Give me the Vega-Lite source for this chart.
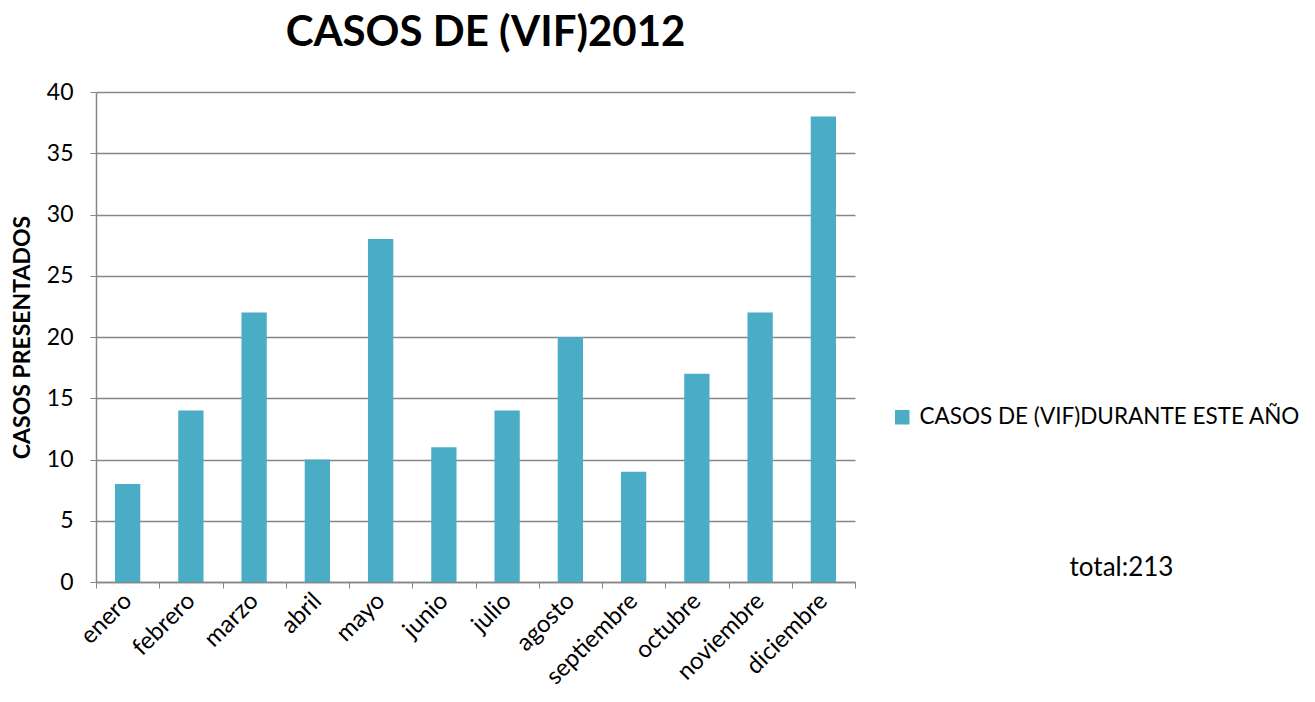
{
  "$schema": "https://vega.github.io/schema/vega-lite/v6.json",
  "width": 759,
  "height": 490,
  "autosize": {"type": "none"},
  "padding": {"left": 96, "top": 92, "right": 460, "bottom": 120},
  "background": "white",
  "title": {
    "text": "CASOS DE (VIF)2012",
    "font": "Lato",
    "fontSize": 42,
    "fontWeight": "bold",
    "color": "#000000",
    "anchor": "middle",
    "dx": 10,
    "offset": 26
  },
  "data": {
    "values": [
      {"mes": "enero", "casos": 8, "serie": "CASOS DE (VIF)DURANTE ESTE AÑO"},
      {"mes": "febrero", "casos": 14, "serie": "CASOS DE (VIF)DURANTE ESTE AÑO"},
      {"mes": "marzo", "casos": 22, "serie": "CASOS DE (VIF)DURANTE ESTE AÑO"},
      {"mes": "abril", "casos": 10, "serie": "CASOS DE (VIF)DURANTE ESTE AÑO"},
      {"mes": "mayo", "casos": 28, "serie": "CASOS DE (VIF)DURANTE ESTE AÑO"},
      {"mes": "junio", "casos": 11, "serie": "CASOS DE (VIF)DURANTE ESTE AÑO"},
      {"mes": "julio", "casos": 14, "serie": "CASOS DE (VIF)DURANTE ESTE AÑO"},
      {"mes": "agosto", "casos": 20, "serie": "CASOS DE (VIF)DURANTE ESTE AÑO"},
      {"mes": "septiembre", "casos": 9, "serie": "CASOS DE (VIF)DURANTE ESTE AÑO"},
      {"mes": "octubre", "casos": 17, "serie": "CASOS DE (VIF)DURANTE ESTE AÑO"},
      {"mes": "noviembre", "casos": 22, "serie": "CASOS DE (VIF)DURANTE ESTE AÑO"},
      {"mes": "diciembre", "casos": 38, "serie": "CASOS DE (VIF)DURANTE ESTE AÑO"}
    ]
  },
  "mark": {"type": "bar", "width": {"band": 0.4}},
  "encoding": {
    "x": {
      "field": "mes",
      "type": "nominal",
      "sort": null,
      "scale": {"paddingInner": 0, "paddingOuter": 0},
      "axis": {
        "title": "total:213",
        "titleX": 1025,
        "titleY": -7,
        "titleAlign": "center",
        "titleBaseline": "alphabetic",
        "titleAngle": 0,
        "titleFont": "Lato",
        "titleFontSize": 26,
        "titleFontWeight": "normal",
        "titleColor": "#000000",
        "tickBand": "extent",
        "tickSize": 6,
        "tickColor": "#868686",
        "domainColor": "#868686",
        "domainWidth": 1.5,
        "labelAngle": -45,
        "labelAlign": "right",
        "labelBaseline": "middle",
        "labelFont": "Lato",
        "labelFontSize": 24,
        "labelColor": "#000000",
        "labelPadding": 9,
        "grid": false
      }
    },
    "y": {
      "field": "casos",
      "type": "quantitative",
      "scale": {"domain": [0, 40]},
      "axis": {
        "title": "CASOS PRESENTADOS",
        "titleFont": "Lato",
        "titleFontSize": 23,
        "titleFontWeight": "bold",
        "titleColor": "#000000",
        "titlePadding": 12,
        "values": [0, 5, 10, 15, 20, 25, 30, 35, 40],
        "grid": true,
        "gridColor": "#868686",
        "gridWidth": 1.5,
        "tickSize": 6,
        "tickColor": "#868686",
        "domainColor": "#868686",
        "domainWidth": 1.5,
        "labelFont": "Lato",
        "labelFontSize": 23,
        "labelColor": "#000000",
        "labelPadding": 17
      }
    },
    "fill": {
      "field": "serie",
      "type": "nominal",
      "scale": {"range": ["#4BACC6"]},
      "legend": {
        "orient": "none",
        "legendX": 795,
        "legendY": 314,
        "padding": 0,
        "title": null,
        "symbolType": "square",
        "symbolSize": 210,
        "symbolStrokeWidth": 0,
        "labelFont": "Lato",
        "labelFontSize": 22.5,
        "labelColor": "#000000",
        "labelOffset": 6,
        "labelLimit": 500
      }
    }
  },
  "config": {"view": {"stroke": null}}
}
